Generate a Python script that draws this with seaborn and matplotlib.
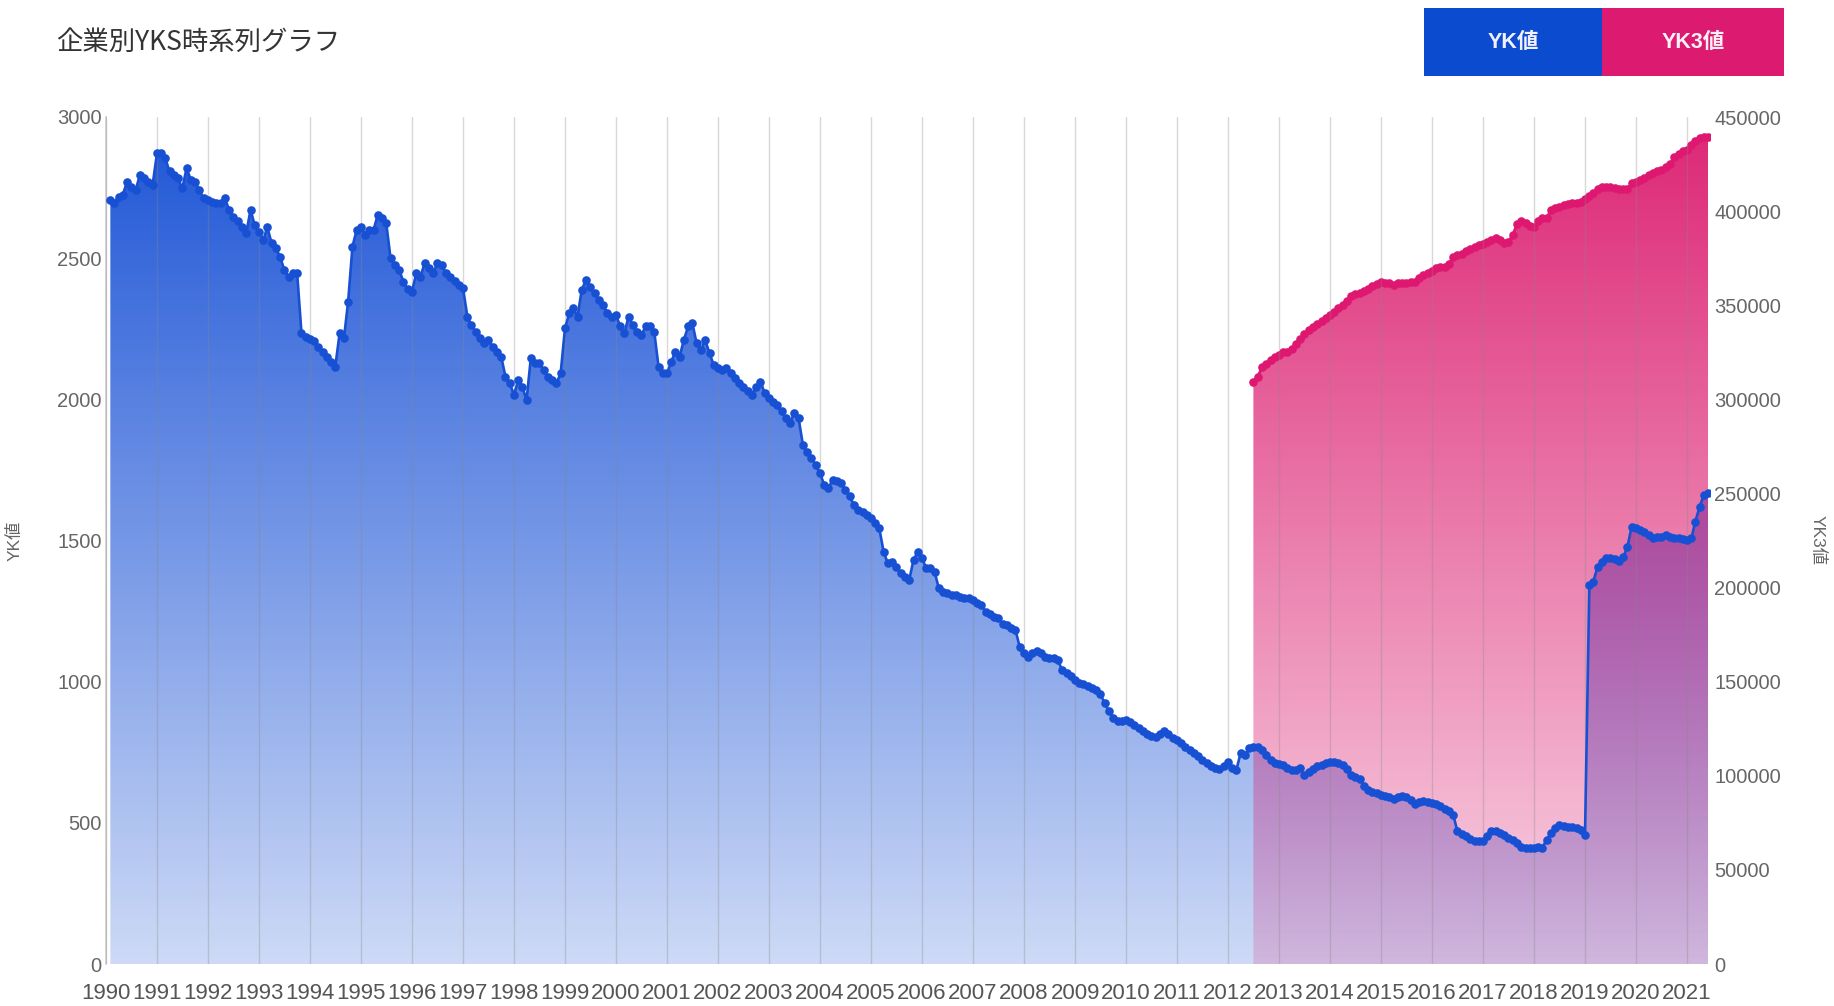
import numpy as np
import pandas as pd
import matplotlib
matplotlib.use("Agg")
import matplotlib.pyplot as plt
import matplotlib.dates as mdates
from matplotlib.patches import Rectangle
import seaborn as sns

# ---------------- data ----------------
title_text = "企業別YKS時系列グラフ"
series_names = ["YK値", "YK3値"]

yk_start = "1990-02-01"
yk_values = [
    2706, 2694, 2718, 2724, 2771, 2753, 2741, 2795, 2783, 2771, 2760,            # 1990 (Feb-)
    2871, 2871, 2854, 2807, 2795, 2783, 2747, 2818, 2777, 2771, 2740, 2712,      # 1991
    2705, 2700, 2694, 2694, 2712, 2671, 2647, 2630, 2612, 2588, 2671, 2617,      # 1992
    2594, 2564, 2610, 2553, 2535, 2505, 2458, 2434, 2446, 2446, 2234, 2222,      # 1993
    2215, 2205, 2187, 2169, 2151, 2134, 2116, 2234, 2216, 2346, 2541, 2600,      # 1994
    2612, 2583, 2600, 2600, 2653, 2641, 2624, 2499, 2476, 2458, 2417, 2390,      # 1995
    2381, 2446, 2434, 2482, 2464, 2446, 2482, 2476, 2446, 2434, 2420, 2405,      # 1996
    2393, 2293, 2263, 2240, 2216, 2198, 2210, 2187, 2169, 2151, 2080, 2057,      # 1997
    2016, 2069, 2045, 1998, 2145, 2128, 2128, 2104, 2080, 2068, 2057, 2092,      # 1998
    2252, 2305, 2322, 2293, 2388, 2423, 2399, 2376, 2352, 2334, 2305, 2293,      # 1999
    2299, 2258, 2234, 2293, 2263, 2240, 2228, 2258, 2258, 2240, 2116, 2092,      # 2000
    2092, 2134, 2169, 2151, 2210, 2258, 2270, 2198, 2175, 2210, 2163, 2122,      # 2001
    2110, 2104, 2110, 2092, 2075, 2057, 2045, 2030, 2016, 2045, 2063, 2022,      # 2002
    2004, 1992, 1980, 1957, 1933, 1915, 1953, 1933, 1838, 1815, 1791, 1768,      # 2003
    1738, 1697, 1685, 1715, 1709, 1703, 1679, 1656, 1626, 1608, 1600, 1590,      # 2004
    1579, 1561, 1543, 1460, 1419, 1425, 1407, 1384, 1372, 1360, 1431, 1460,      # 2005
    1437, 1401, 1401, 1390, 1330, 1319, 1313, 1307, 1307, 1300, 1295, 1295,      # 2006
    1290, 1280, 1271, 1248, 1240, 1230, 1224, 1205, 1201, 1189, 1183, 1124,      # 2007
    1101, 1089, 1101, 1107, 1101, 1089, 1083, 1085, 1075, 1040, 1030, 1020,      # 2008
    1005, 995, 990, 985, 978, 970, 955, 925, 895, 872, 860, 860,                 # 2009
    864, 856, 845, 835, 825, 815, 808, 803, 815, 825, 815, 800,                  # 2010
    794, 782, 770, 758, 747, 735, 723, 711, 700, 694, 692, 700,                  # 2011
    717, 694, 688, 747, 741, 764, 770, 770, 758, 740, 722, 713,                  # 2012
    708, 705, 694, 688, 688, 694, 668, 680, 690, 700, 705, 711,                  # 2013
    717, 717, 711, 705, 690, 670, 662, 655, 630, 618, 610, 606,                  # 2014
    600, 594, 590, 584, 590, 594, 590, 582, 568, 574, 577, 574,                  # 2015
    571, 566, 559, 550, 541, 529, 470, 462, 453, 441, 436, 435,                  # 2016
    437, 455, 472, 470, 465, 457, 447, 440, 428, 416, 410, 410,                  # 2017
    410, 413, 412, 440, 463, 480, 493, 490, 487, 487, 481, 476,                  # 2018
    457, 1342, 1354, 1407, 1425, 1437, 1437, 1433, 1428, 1440, 1478, 1549,       # 2019
    1543, 1537, 1531, 1520, 1510, 1514, 1514, 1518, 1514, 1510, 1508, 1506,      # 2020
    1502, 1508, 1567, 1620, 1661, 1667,                                          # 2021 (-Jun)
]

yk3_start = "2012-07-01"
yk3_values = [
    309400, 312000, 317000, 319000, 321000, 322700,                                          # 2012 (Jul-)
    323500, 325000, 325300, 327000, 329500, 332000, 334500, 336800, 338500, 340000, 341500, 343300,  # 2013
    344800, 346500, 348300, 350000, 352500, 355000, 355800, 356300, 357800, 358800, 360000, 361500,  # 2014
    362500, 361600, 361600, 360800, 361600, 361600, 361800, 362500, 362500, 364200, 365800, 367000,  # 2015
    368000, 369800, 370500, 370500, 372000, 375500, 376700, 377300, 379000, 380000, 380800, 381800,  # 2016
    382500, 383500, 384700, 385500, 384700, 382900, 383500, 387300, 393000, 395000, 393500, 392300,  # 2017
    391800, 395000, 396200, 396200, 400500, 401500, 402300, 403000, 403700, 404100, 404100, 405000,  # 2018
    406300, 407800, 409500, 411500, 412800, 413000, 413000, 412500, 411800, 411500, 412000, 414700,  # 2019
    415600, 416400, 417500, 419200, 420300, 421100, 421900, 423500, 425000, 428500, 430500, 431900,  # 2020
    432600, 435100, 437500, 438600, 439300, 439600,                                          # 2021 (-Jun)
]

left_ticks = [0, 500, 1000, 1500, 2000, 2500, 3000]
right_ticks = [0, 50000, 100000, 150000, 200000, 250000, 300000, 350000, 400000, 450000]
x_range = ("1990-01-01", "2021-06-14")

# ---------------- style ----------------
sns.set_theme(style="white")
plt.rcParams["font.family"] = ["Liberation Sans", "Noto Sans CJK JP", "DejaVu Sans"]

BLUE_LINE = "#1850d4"
PINK_LINE = "#de1870"
BLUE_RGB = (0.11, 0.33, 0.84)
PINK_RGB = (0.86, 0.10, 0.43)

yk_x = mdates.date2num(pd.date_range(yk_start, periods=len(yk_values), freq="MS"))
yk3_x = mdates.date2num(pd.date_range(yk3_start, periods=len(yk3_values), freq="MS"))
x0, x1 = mdates.date2num(pd.Timestamp(x_range[0])), mdates.date2num(pd.Timestamp(x_range[1]))

W, H = 1834, 1006
fig = plt.figure(figsize=(W / 100, H / 100), dpi=100)
fig.patch.set_facecolor("white")
pos = [106 / W, 1 - 964 / H, 1604 / W, 847 / H]

ax = fig.add_axes(pos)          # blue fill + axes decoration
ax2 = ax.twinx()                # pink series (right scale)
ax3 = fig.add_axes(pos, sharex=ax, sharey=ax)  # blue line on top + grid

ax2.set_zorder(ax.get_zorder() + 1)
ax3.set_zorder(ax2.get_zorder() + 1)
ax2.patch.set_visible(False)
ax3.patch.set_visible(False)


def gradient_fill(axis, x, y, rgb, a_lo, a_hi, ymax):
    poly = axis.fill_between(x, y, 0, facecolor="none", edgecolor="none")
    n = 512
    img = np.zeros((n, 1, 4))
    img[..., 0], img[..., 1], img[..., 2] = rgb
    img[..., 3] = (a_lo + (a_hi - a_lo) * np.linspace(0, 1, n)).reshape(-1, 1)
    im = axis.imshow(img, extent=[x[0], x[-1], 0, ymax], origin="lower",
                     aspect="auto", interpolation="bilinear", zorder=1)
    im.set_clip_path(poly.get_paths()[0], transform=axis.transData)


gradient_fill(ax, yk_x, yk_values, BLUE_RGB, 0.22, 1.0, left_ticks[-1])
gradient_fill(ax2, yk3_x, yk3_values, PINK_RGB, 0.18, 0.95, right_ticks[-1])

sns.lineplot(x=yk3_x, y=yk3_values, ax=ax2, color=PINK_LINE, linewidth=2.0,
             marker="o", markersize=6.2, markeredgewidth=0, zorder=3)
sns.lineplot(x=yk_x, y=yk_values, ax=ax3, color=BLUE_LINE, linewidth=1.9,
             marker="o", markersize=6.2, markeredgewidth=0, zorder=3)

# limits / ticks
ax.set_xlim(x0, x1)
ax.set_ylim(left_ticks[0], left_ticks[-1])
ax2.set_ylim(right_ticks[0], right_ticks[-1])
ax.xaxis.set_major_locator(mdates.YearLocator())
ax.xaxis.set_major_formatter(mdates.DateFormatter("%Y"))
ax.set_yticks(left_ticks)
ax.set_yticklabels([str(v) for v in left_ticks])
ax2.set_yticks(right_ticks)
ax2.set_yticklabels([str(v) for v in right_ticks])

ax.tick_params(axis="x", length=9, width=1, color="#dddddd", labelsize=16,
               labelcolor="#555555", pad=5)
ax.tick_params(axis="y", length=0, pad=3, labelsize=14.5, labelcolor="#666666")
ax2.tick_params(axis="y", length=0, pad=3, labelsize=14.5, labelcolor="#666666")
ax3.tick_params(axis="both", length=0, labelbottom=False, labelleft=False)
ax3.set_xlabel("")
ax3.set_ylabel("")

ax3.grid(True, axis="x", color="#888888", alpha=0.32, linewidth=1)
ax3.grid(False, axis="y")
ax3.set_axisbelow(True)
ax.grid(False)
ax2.grid(False)

for s in ["top", "right", "bottom"]:
    ax.spines[s].set_visible(False)
ax.spines["left"].set_color("#cccccc")
ax.spines["left"].set_linewidth(1.2)
for s in ax2.spines.values():
    s.set_visible(False)
for s in ax3.spines.values():
    s.set_visible(False)

ax.set_ylabel(series_names[0], fontsize=12.5, color="#666666")
ax.yaxis.set_label_coords(-0.052, 0.5)
ax2.set_ylabel(series_names[1], fontsize=12.5, color="#666666", rotation=270, va="center")
ax2.yaxis.set_label_coords(1.067, 0.5)

# title
fig.text(56 / W, 1 - 42 / H, title_text, fontsize=19, color="#333333",
         ha="left", va="center", family=["Noto Sans CJK JP", "DejaVu Sans"])

# legend boxes
fig.add_artist(Rectangle((1424 / W, 1 - 76 / H), 178 / W, 68 / H,
                         transform=fig.transFigure, facecolor="#0b4bd0", edgecolor="none"))
fig.add_artist(Rectangle((1602 / W, 1 - 76 / H), 182 / W, 68 / H,
                         transform=fig.transFigure, facecolor="#dc1a70", edgecolor="none"))
fig.text(1513 / W, 1 - 43 / H, series_names[0], color="#f2f0ff", fontsize=15.5,
         fontweight="bold", ha="center", va="center")
fig.text(1693 / W, 1 - 43 / H, series_names[1], color="#fff0f6", fontsize=15.5,
         fontweight="bold", ha="center", va="center")

fig.savefig("out.png", dpi=100, facecolor="white")
